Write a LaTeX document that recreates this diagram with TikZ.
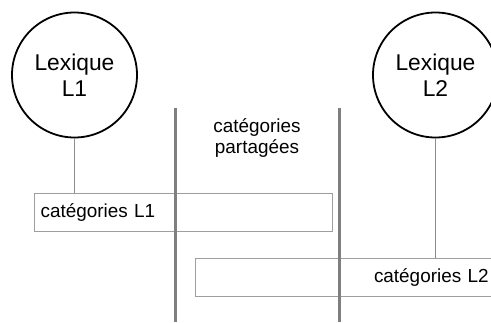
\documentclass[tikz,border=0pt]{standalone}
\usepackage{fontspec}
\setmainfont{Liberation Sans}
\definecolor{thinline}{HTML}{8C8C8C}
\definecolor{boxline}{HTML}{9E9E9E}
\definecolor{sepline}{HTML}{7F7F7F}
\tikzset{
  lexicon/.style={circle, draw=black, line width=1.8pt, minimum size=125pt, inner sep=0pt,
    align=center, font=\fontsize{22.8}{26.5}\selectfont},
  catbox/.style={rectangle, draw=boxline, line width=1.1pt, minimum height=38pt, inner ysep=0pt,
    font=\fontsize{18.9}{22}\selectfont},
  link/.style={draw=thinline, line width=1pt},
  separator/.style={draw=sepline, line width=3pt},
  lbl/.style={align=center, font=\fontsize{18.9}{21}\selectfont}
}
\begin{document}
\begin{tikzpicture}[x=1pt, y=-1pt]
\useasboundingbox (0,0) rectangle (491,322);
\clip (0,0) rectangle (491,322);
% boxes
\node[catbox, anchor=north west, text width=286pt, inner xsep=6pt, align=left] (c1) at (34,193) {catégories L1};
\node[catbox, anchor=north west, text width=281pt, inner xsep=12pt, align=right] (c2) at (195,257.5) {catégories L2};
% circles
\node[lexicon] (l1) at (74.5,75) {Lexique\\L1};
\node[lexicon] (l2) at (435.5,75) {Lexique\\L2};
% links
\draw[link] (l1.south) -- (l1.south |- c1.north);
\draw[link] (l2.south) -- (l2.south |- c2.north);
% separators
\coordinate (s1t) at (175,108);
\coordinate (s1b) at (175,322);
\coordinate (s2t) at (339.5,108);
\coordinate (s2b) at (339.5,322);
\draw[separator] (s1t) -- (s1b);
\draw[separator] (s2t) -- (s2b);
% shared label
\node[lbl] (shared) at (257,138) {catégories\\partagées};
\end{tikzpicture}
\end{document}
